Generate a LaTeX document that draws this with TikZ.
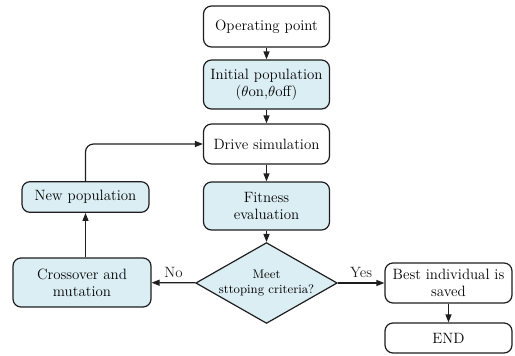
\documentclass[tikz,border=0pt]{standalone}
\usepackage{xcolor}
\definecolor{gablue}{RGB}{219,238,244}
\definecolor{galine}{RGB}{30,30,30}
\usetikzlibrary{arrows.meta,positioning,shapes.geometric,calc}

\begin{document}
\begin{tikzpicture}[
  x=0.75pt,y=-0.75pt,
  every node/.style={font=\fontsize{11.2}{13}\selectfont},
  whitebox/.style={draw=galine,fill=white,line width=0.9pt,rounded corners=6pt,
                   minimum width=94.5pt,align=center,inner sep=2pt},
  bluebox/.style={whitebox,fill=gablue},
  decbox/.style={draw=galine,fill=gablue,line width=0.9pt,diamond,aspect=1.75,
                 inner sep=0pt,align=center,font=\fontsize{9.3}{11.5}\selectfont},
  arr/.style={-{Triangle[length=6pt,width=4.5pt]},line width=0.9pt,galine},
]
  \useasboundingbox (0,0) rectangle (515,355);

  % main column
  \node[whitebox,minimum height=30.75pt] (op)   at (266.5,26.5) {Operating point};
  \node[bluebox,minimum height=36.75pt]  (init) at (266.5,84.5) {Initial population\\($\theta$on,$\theta$off)};
  \node[whitebox,minimum height=30pt]    (drive) at (266.5,144) {Drive simulation};
  \node[bluebox,minimum height=36pt]     (fit)  at (266.5,206) {Fitness\\evaluation};
  \node[decbox]                          (meet) at (266.5,283) {Meet\\sttoping criteria?};
  \draw[arr] (op) -- (init);
  \draw[arr] (init) -- (drive);
  \draw[arr] (drive) -- (fit);
  \draw[arr] (fit) -- (meet);

  % loop back
  \node[bluebox,minimum width=103.5pt,minimum height=36.75pt] (cross) at (82,282.5) {Crossover and\\mutation};
  \node[bluebox,minimum width=95.25pt,minimum height=23pt] (newpop) at (85.5,197) {New population};
  \draw[arr] (meet) -- node[above] {No} (cross);
  \draw[arr] (cross.north -| newpop) -- (newpop);
  \draw[arr,rounded corners=6pt] (newpop) |- (drive);

  % exit
  \node[whitebox,minimum width=95.25pt,minimum height=30pt] (best) at (448.5,283) {Best individual is\\saved};
  \node[whitebox,minimum width=95.25pt,minimum height=22.5pt] (stop) at (448.5,338) {END};
  \draw[arr] (meet) -- node[above] {Yes} (best);
  \draw[arr] (best) -- (stop);
\end{tikzpicture}
\end{document}
